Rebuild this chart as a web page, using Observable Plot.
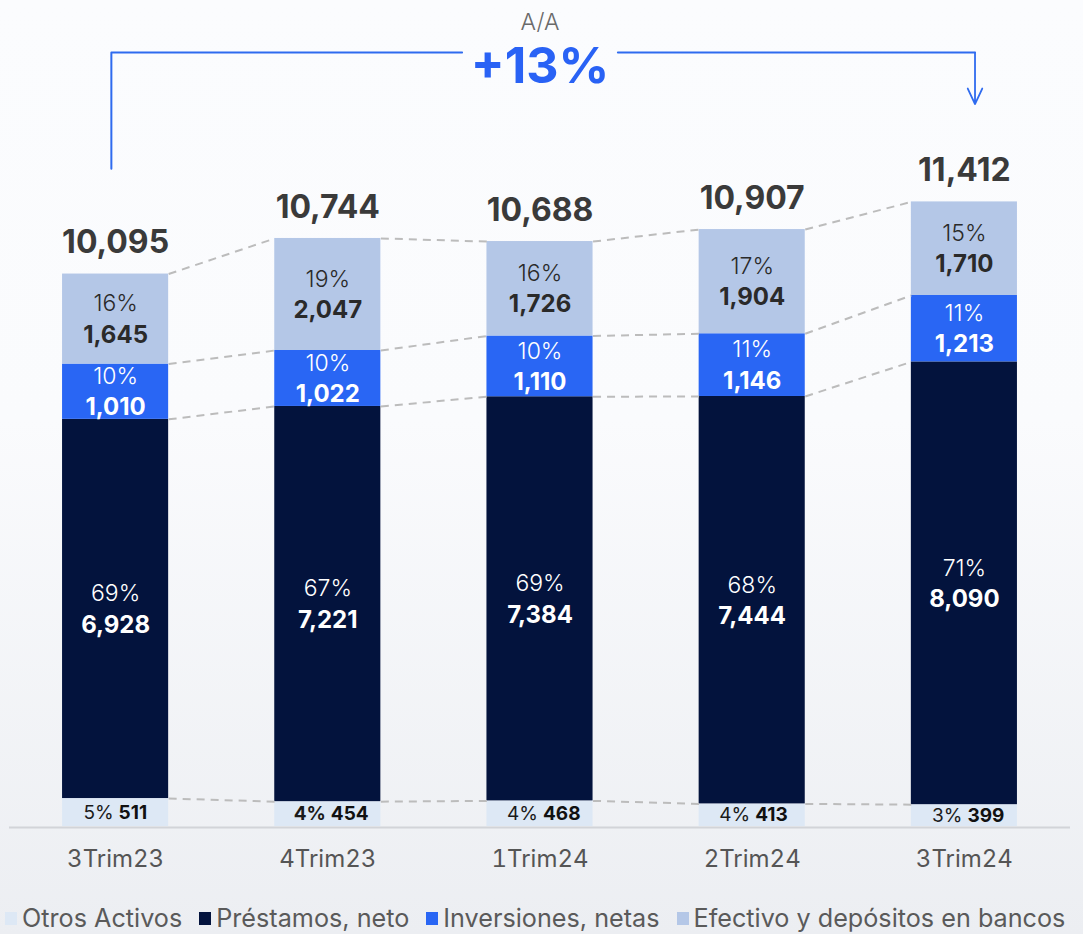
<!DOCTYPE html>
<html><head><meta charset="utf-8">
<script src="https://cdn.jsdelivr.net/npm/d3@7"></script>
<script src="https://cdn.jsdelivr.net/npm/@observablehq/plot@0.6"></script>
<style>
html,body{margin:0;padding:0;}
body{width:1083px;height:934px;background:linear-gradient(#fbfcfe 0%, #fafbfd 45%, #eceef2 100%);font-family:Inter, sans-serif;overflow:hidden}
#legend{display:flex;align-items:center;height:30px;padding-left:5px;font-size:25.2px;color:#5a5a5a;white-space:nowrap}
.item{display:flex;align-items:center;margin-right:17px}
.sw{width:12px;height:13px;margin-right:5px}
</style></head><body>
<div id="chart"></div>
<div id="legend"></div>
<script>
const categories = ["3Trim23","4Trim23","1Trim24","2Trim24","3Trim24"];
const seriesNames = ["Otros Activos","Préstamos, neto","Inversiones, netas","Efectivo y depósitos en bancos"];
const otros       = [511, 454, 468, 413, 399];
const prestamos   = [6928, 7221, 7384, 7444, 8090];
const inversiones = [1010, 1022, 1110, 1146, 1213];
const efectivo    = [1645, 2047, 1726, 1904, 1710];
const totals      = [10095, 10744, 10688, 10907, 11412];
const pctOtros       = [5, 4, 4, 4, 3];
const pctPrestamos   = [69, 67, 69, 68, 71];
const pctInversiones = [10, 10, 10, 11, 11];
const pctEfectivo    = [16, 19, 16, 17, 15];
const growthCaption = "A/A";
const growthLabel = "+13%";

const colors = ["#dde8f5", "#03133d", "#2966f4", "#b4c7e7"];
const labelFill = ["#1a1a1a", "#ffffff", "#ffffff", "#2a2a2a"];
const values = [otros, prestamos, inversiones, efectivo];
const pcts = [pctOtros, pctPrestamos, pctInversiones, pctEfectivo];
const fmt = d3.format(",");

const rows = [];
const cum = values.map(() => []);
categories.forEach((c, i) => {
  let acc = 0;
  values.forEach((vals, s) => {
    const v = vals[i];
    rows.push({i, cat: c, s, value: v, pct: pcts[s][i], y1: acc, y2: acc + v, mid: acc + v / 2});
    acc += v;
    cum[s][i] = acc;
  });
});
const links = [];
cum.forEach((arr, s) => {
  for (let i = 0; i < arr.length - 1; i++) {
    links.push({x1: i + 0.25, y1: arr[i], x2: i + 1 - 0.25, y2: arr[i + 1]});
  }
});
const upper = rows.filter(d => d.s > 0);
const lower = rows.filter(d => d.s === 0);
const boldOtrosPct = new Set(["4Trim23"]);
const lowerRegular = lower.filter(d => !boldOtrosPct.has(d.cat));
const lowerBold = lower.filter(d => boldOtrosPct.has(d.cat));

// bracket annotation (data units)
const bx0 = -0.02, bx1 = 4.05, bMid = 2, bGap = 0.367;
const yTop = 14140, yLeft = 12020, yArrow = 13200;
const blue = "#2f6bef";

const chart = Plot.plot({
  width: 1083, height: 903,
  marginLeft: 9, marginRight: 13, marginTop: 0, marginBottom: 77,
  x: {type: "linear", domain: [-0.5, 4.5], axis: null},
  y: {domain: [0, 15092], axis: null},
  style: {fontFamily: "Inter, sans-serif", background: "transparent", overflow: "visible"},
  marks: [
    Plot.ruleY([0], {stroke: "#d2d4d8", strokeWidth: 2, dy: 1}),
    Plot.rect(rows, {x1: d => d.i - 0.25, x2: d => d.i + 0.25, y1: "y1", y2: "y2", fill: d => colors[d.s]}),
    Plot.link(links, {x1: "x1", y1: "y1", x2: "x2", y2: "y2", stroke: "#bcbcbc", strokeWidth: 2, strokeDasharray: "8,6"}),
    // upper segment labels
    Plot.text(upper, {x: "i", y: "mid", text: d => d.pct + "%", dy: -15, fontSize: 23, fill: d => labelFill[d.s], fontWeight: 300}),
    Plot.text(upper, {x: "i", y: "mid", text: d => fmt(d.value), dy: 16, fontSize: 24, fill: d => labelFill[d.s], fontWeight: 700}),
    // bottom segment labels
    Plot.text(lowerRegular, {x: "i", y: "mid", text: d => d.pct + "%", textAnchor: "end", dx: -2, fontSize: 19, fill: "#1a1a1a", fontWeight: 400}),
    Plot.text(lowerBold, {x: "i", y: "mid", text: d => d.pct + "%", textAnchor: "end", dx: -2, fontSize: 19, fill: "#1a1a1a", fontWeight: 700}),
    Plot.text(lower, {x: "i", y: "mid", text: d => fmt(d.value), textAnchor: "start", dx: 3, fontSize: 19, fill: "#111", fontWeight: 700}),
    // totals
    Plot.text(categories, {x: (d, i) => i, y: (d, i) => cum[3][i], text: (d, i) => fmt(totals[i]), dy: -31, fontSize: 32, fontWeight: 700, fill: "#3a3a3a"}),
    // category axis
    Plot.axisX({ticks: d3.range(categories.length), tickFormat: i => categories[i], tickSize: 0, tickPadding: 23, fontSize: 24, fill: "#555", label: null}),
    // bracket
    Plot.line([[bx0, yLeft], [bx0, yTop], [bMid - bGap, yTop]], {stroke: blue, strokeWidth: 2}),
    Plot.line([[bMid + bGap, yTop], [bx1, yTop]], {stroke: blue, strokeWidth: 2}),
    Plot.arrow([{x1: bx1, y1: yTop, x2: bx1, y2: yArrow}], {x1: "x1", y1: "y1", x2: "x2", y2: "y2", stroke: blue, strokeWidth: 1.8, headLength: 18, headAngle: 50}),
    Plot.text([growthCaption], {x: bMid, frameAnchor: "top", dy: 22, lineAnchor: "middle", fontSize: 23, fill: "#6a6a6a", fontWeight: 300}),
    Plot.text([growthLabel], {x: bMid, y: yTop, dy: 14, lineAnchor: "middle", fontSize: 50, fill: "#2962f5", fontWeight: 700})
  ]
});
document.getElementById("chart").appendChild(chart);

const legend = document.getElementById("legend");
seriesNames.forEach((n, s) => {
  const it = document.createElement("div");
  it.className = "item";
  it.innerHTML = `<span class="sw" style="background:${colors[s]}"></span><span>${n}</span>`;
  legend.appendChild(it);
});
</script>
</body></html>
